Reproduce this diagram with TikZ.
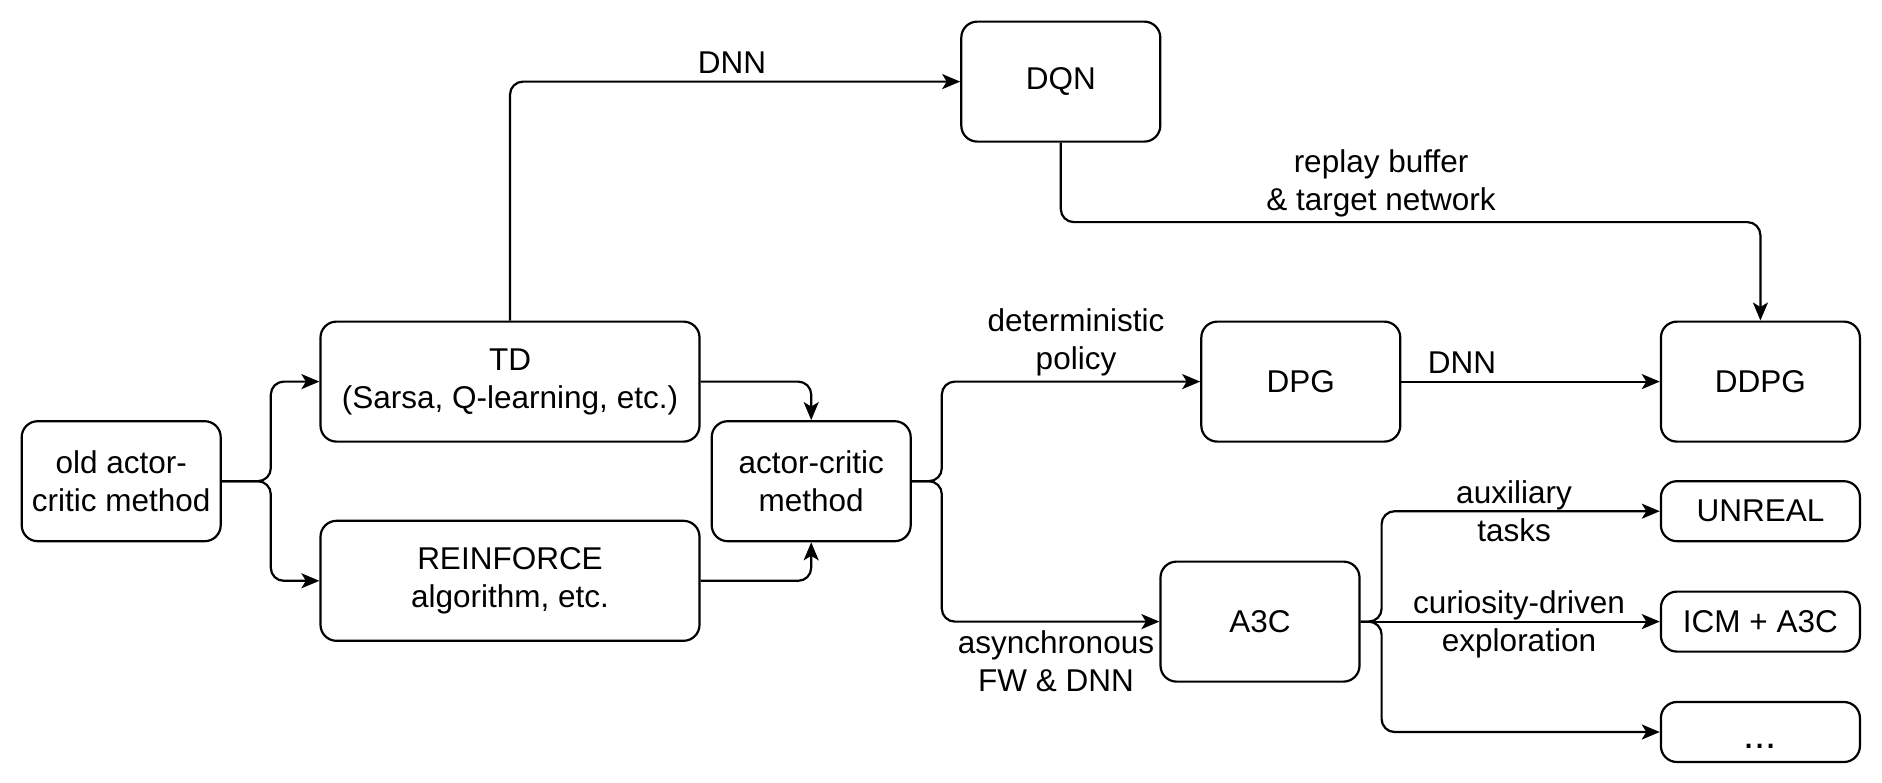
\documentclass[tikz,border=0pt]{standalone}
\usepackage{fontspec}
\setmainfont{Liberation Sans}
\usetikzlibrary{arrows.meta}
\begin{document}
\begin{tikzpicture}[x=1pt,y=-1pt,
  box/.style={draw, line width=2.2pt, rounded corners=16pt, align=center, inner sep=0pt,
    minimum width=199pt, font=\fontsize{31.5}{38}\selectfont},
  tall/.style={minimum height=120pt},
  short/.style={minimum height=60pt},
  conn/.style={line width=2.2pt, rounded corners=13pt, -{Stealth[length=18pt,width=15pt,inset=4.5pt]}},
  lbl/.style={align=center, inner sep=0pt, anchor=base, font=\fontsize{31.5}{38}\selectfont}]
\useasboundingbox (0,0) rectangle (1882,782);
% boxes
\node[box, tall] (old) at (121.2,481.2) {old actor-\\critic method};
\node[box, tall, minimum width=379pt] (td) at (510,381.6) {TD\\(Sarsa, Q-learning, etc.)};
\node[box, tall, minimum width=379pt] (rf) at (510,580.8) {REINFORCE\\algorithm, etc.};
\node[box, tall] (ac) at (811.2,481.2) {actor-critic\\method};
\node[box, tall] (dqn) at (1060.8,81.6) {DQN};
\node[box, tall] (dpg) at (1300.8,381.6) {DPG};
\node[box, tall] (ddpg) at (1760.4,381.6) {DDPG};
\node[box, tall] (a3c) at (1260,621.6) {A3C};
\node[box, short] (unreal) at (1760.4,511.2) {UNREAL};
\node[box, short] (icm) at (1760.4,621.6) {ICM + A3C};
\node[box, short] (etc) at (1760.4,732) {};
\node[lbl, font=\fontsize{40}{48}\selectfont] (etctext) at (1760.4,748) {...};
% connectors
\draw[conn] (old.east) -- ++(49,0) |- (td.west);
\draw[conn] (old.east) -- ++(49,0) |- (rf.west);
\draw[conn] (td.east) -| (ac.north);
\draw[conn] (rf.east) -| (ac.south);
\draw[conn] (td.north) |- (dqn.west);
\draw[conn] (dqn.south) -- ++(0,79.4) -| (ddpg.north);
\draw[conn] (ac.east) -- ++(30,0) |- (dpg.west);
\draw[conn] (ac.east) -- ++(30,0) |- (a3c.west);
\draw[conn] (dpg.east) -- (ddpg.west);
\draw[conn] (a3c.east) -- ++(21,0) |- (unreal.west);
\draw[conn] (a3c.east) -- (icm.west);
\draw[conn] (a3c.east) -- ++(21,0) |- (etc.west);
% labels (anchor = baseline of the last line)
\node[lbl] (l1) at (732,73) {DNN};
\node[lbl] (l2) at (1381,210) {replay buffer\\\& target network};
\node[lbl] (l3) at (1076,369) {deterministic\\policy};
\node[lbl] (l4) at (1056,691) {asynchronous\\FW \& DNN};
\node[lbl] (l5) at (1462,373) {DNN};
\node[lbl] (l6) at (1514,541) {auxiliary\\tasks};
\node[lbl] (l7) at (1519,651) {curiosity-driven\\exploration};
\end{tikzpicture}
\end{document}
